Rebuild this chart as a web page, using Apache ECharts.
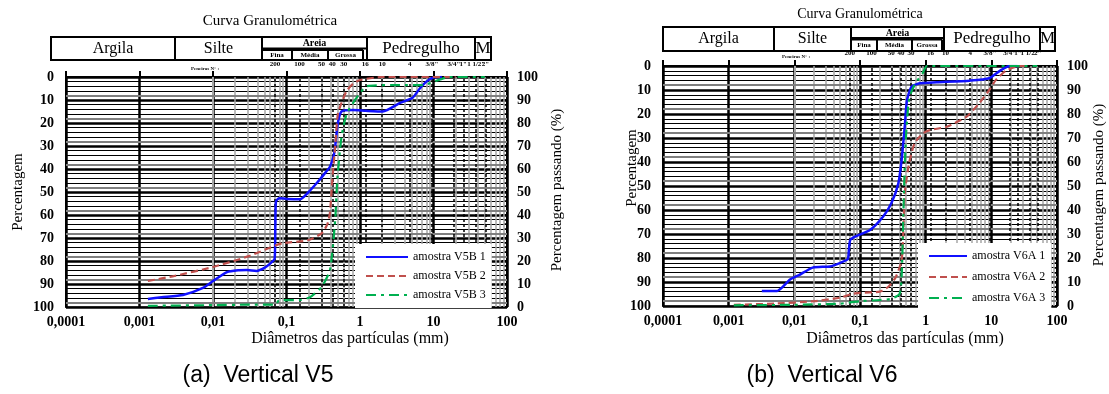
<!DOCTYPE html>
<html>
<head>
<meta charset="utf-8">
<script src="https://cdn.jsdelivr.net/npm/echarts@6/dist/echarts.min.js"></script>
<style>
  html, body { margin: 0; padding: 0; background: #fff; }
  #main { width: 1109px; height: 394px; }
</style>
</head>
<body>
<div id="main"></div>
<script>
var serif = '"Liberation Serif", "DejaVu Serif", serif';

// diametro (mm), percentagem passando (%)
var v5b1 = [[0.0013,3.5],[0.002,4.2],[0.0039,5.2],[0.0073,8.3],[0.01,11.3],[0.0155,15.2],[0.022,16],[0.029,16.1],[0.039,15.7],[0.05,17],[0.063,19.5],[0.069,21],[0.0705,35],[0.072,46],[0.08,47.3],[0.1,47],[0.152,46.8],[0.2,50],[0.26,54],[0.33,58],[0.39,61],[0.44,66],[0.46,70],[0.5,80],[0.56,85],[0.8,85.6],[1.2,85.3],[2.05,85],[3.5,88.7],[5.2,91],[6.5,95],[8,98],[9.5,99.5],[11,100],[13,100]];
var v5b2 = [[0.0013,11.3],[0.003,13.5],[0.01,17.4],[0.03,22],[0.074,27],[0.09,27.8],[0.195,29],[0.3,32],[0.36,36],[0.39,41],[0.42,55],[0.46,70],[0.5,84],[0.58,90],[0.66,94],[0.8,97],[1.0,98.7],[2,100],[20,100]];
var v5b3 = [[0.0013,0.5],[0.01,0.8],[0.03,1],[0.07,1],[0.08,3],[0.15,3],[0.21,4.3],[0.3,8.7],[0.39,16],[0.46,38],[0.49,55],[0.56,74],[0.66,84],[0.9,91],[1.25,96],[3.5,96.5],[7,96.5],[16.6,100],[50,100]];

var v6a1 = [[0.0032,6.3],[0.0055,6.3],[0.0086,11],[0.012,13],[0.019,16],[0.035,16.5],[0.05,18],[0.065,19.5],[0.068,24],[0.071,27.5],[0.084,28.9],[0.142,31.7],[0.224,37.2],[0.3,42.8],[0.383,51],[0.43,60.8],[0.48,74.7],[0.52,85.8],[0.61,91.4],[0.82,92.8],[1.47,93.2],[4.7,93.9],[9.3,94.9],[14,98.3],[19,100],[25,100]];
var v6a2 = [[0.0012,0.5],[0.005,1],[0.02,2],[0.05,3.5],[0.075,5],[0.1,5.5],[0.2,6],[0.27,8],[0.35,12],[0.43,19],[0.46,33],[0.48,47],[0.56,59.6],[0.68,67.9],[0.92,72],[1.16,73.3],[2.1,74.7],[4.2,78.9],[6.6,84.6],[9.3,90],[11.6,94],[16.6,98],[26.6,100],[35,100]];
var v6a3 = [[0.0012,0.3],[0.01,0.5],[0.05,1],[0.1,2],[0.2,2.5],[0.3,3],[0.4,5],[0.43,12],[0.45,30],[0.47,50],[0.5,70],[0.55,85],[0.62,90],[0.75,94],[0.9,97],[1.05,100],[50,100]];

var namesV5 = ['amostra V5B 1', 'amostra V5B 2', 'amostra V5B 3'];
var namesV6 = ['amostra V6A 1', 'amostra V6A 2', 'amostra V6A 3'];

// peneiras (mm) e numero
var sieveSize = [0.075, 0.15, 0.3, 0.42, 0.6, 1.18, 2, 4.76, 9.5, 19, 25.4, 38.1, 50.8];
var sieveName = ['200', '100', '50', '40', '30', '16', '10', '4', '3/8"', '3/4"', '1"', '1 1/2"', '2"'];

// linhas cinzentas do papel log
var minorX = [];
[0.0001, 0.001, 0.01, 0.1, 1, 10].forEach(function (d) {
  for (var k = 2; k <= 9; k++) minorX.push(+(d * k).toPrecision(2));
});
var grayY = [2, 12, 22, 32, 42, 52, 62, 72, 82, 92];

var colors = ['#1010ff', '#c0504d', '#00b050'];
var styles = ['solid', [7, 4], [10, 5, 3, 5]];

var grids = [
  { left: 66, top: 77, width: 441, height: 230 },
  { left: 663, top: 66, width: 394, height: 240 }
];

var xAxes = grids.map(function (g, i) {
  return {
    gridIndex: i, type: 'log', logBase: 10, min: 0.0001, max: 100,
    axisLine: { show: true, lineStyle: { color: '#000', width: 2 } },
    axisTick: { show: true, inside: true, length: 6, lineStyle: { color: '#000', width: 2 } },
    axisLabel: {
      margin: 8, color: '#000', fontFamily: serif, fontWeight: 'bold', fontSize: 14,
      formatter: function (v) { return String(+(+v).toPrecision(2)).replace('.', ','); }
    },
    splitLine: { show: true, lineStyle: { color: '#000', width: 2.5 } }
  };
});

var yAxes = [];
grids.forEach(function (g, i) {
  yAxes.push({
    gridIndex: i, type: 'value', min: 0, max: 100, interval: 10, inverse: true, position: 'left',
    axisLine: { show: true, lineStyle: { color: '#000', width: 2 } },
    axisTick: { show: false },
    axisLabel: { margin: 12, color: '#000', fontFamily: serif, fontWeight: 'bold', fontSize: 14 },
    splitLine: { show: true, lineStyle: { color: '#000', width: 2.5 } },
    minorTick: { show: false, splitNumber: 5 },
    minorSplitLine: { show: true, lineStyle: { color: '#000', width: 1 } }
  });
  yAxes.push({
    gridIndex: i, type: 'value', min: 0, max: 100, interval: 10, position: 'right',
    axisLine: { show: true, lineStyle: { color: '#000', width: 2 } },
    axisTick: { show: true, inside: true, length: 5, lineStyle: { color: '#000', width: 2 } },
    minorTick: { show: true, splitNumber: 5, length: 3, lineStyle: { color: '#000', width: 1.5 } },
    axisLabel: { margin: 10, color: '#000', fontFamily: serif, fontWeight: 'bold', fontSize: 14 },
    splitLine: { show: false }
  });
});

function helper(i) {
  var lines = [];
  minorX.forEach(function (v) {
    lines.push({ xAxis: v, lineStyle: { color: '#a6a6a6', width: 1.5, type: 'solid' }, label: { show: false } });
  });
  grayY.forEach(function (v) {
    lines.push({ yAxis: v, lineStyle: { color: '#7f7f7f', width: 2, type: 'solid' }, label: { show: false } });
  });
  sieveSize.forEach(function (v, k) {
    lines.push({
      xAxis: v, lineStyle: { color: '#000', width: 1.5, type: [3, 2] },
      label: { show: true, position: 'end', formatter: sieveName[k], distance: 9,
        fontSize: 7, fontWeight: 'bold', fontFamily: serif, color: '#000' }
    });
  });
  return {
    type: 'line', xAxisIndex: i, yAxisIndex: i * 2 + 1, data: [], silent: true, z: 1,
    markLine: { symbol: 'none', silent: true, animation: false, data: lines }
  };
}

var series = [helper(0), helper(1)];
[[v5b1, v5b2, v5b3], [v6a1, v6a2, v6a3]].forEach(function (set, i) {
  var names = i === 0 ? namesV5 : namesV6;
  set.forEach(function (d, k) {
    series.push({
      type: 'line', name: names[k], xAxisIndex: i, yAxisIndex: i * 2 + 1,
      data: d, symbol: 'none', smooth: 0.2, z: 5, animation: false,
      lineStyle: { color: colors[k], width: k === 0 ? 2.5 : 2.2, type: styles[k] },
      itemStyle: { color: colors[k] }
    });
  });
});

function legend(names, left, top, gap, w) {
  return {
    data: names, left: left, top: top, orient: 'vertical', itemGap: gap,
    itemWidth: w, itemHeight: 10, backgroundColor: '#fff', z: 20,
    padding: [7, 6, 7, 10], selectedMode: false,
    itemStyle: { color: 'transparent', borderColor: 'transparent', borderWidth: 0 },
    textStyle: { fontFamily: serif, fontSize: 12, color: '#000' }
  };
}

function txt(x, y, s, size, extra) {
  var e = {
    type: 'text', x: x, y: y, z: 10,
    style: { text: s, fill: '#000', align: 'center', verticalAlign: 'middle',
      font: (extra && extra.weight ? extra.weight + ' ' : '') + size + 'px ' + (extra && extra.family ? extra.family : serif) }
  };
  if (extra && extra.rot) e.rotation = Math.PI / 2;
  return e;
}
function ln(x1, y1, x2, y2) {
  return { type: 'line', z: 10, shape: { x1: x1, y1: y1, x2: x2, y2: y2 }, style: { stroke: '#000', lineWidth: 2 } };
}

// tabela de classificacao por cima do grafico
function header(h) {
  var el = [];
  var c = h.cuts, s = h.sub, cy = (h.top + h.bot) / 2;
  el.push({ type: 'rect', z: 10, shape: { x: h.x0, y: h.top, width: h.end - h.x0, height: h.bot - h.top },
    style: { fill: 'none', stroke: '#000', lineWidth: 2 } });
  c.forEach(function (x) { el.push(ln(x, h.top, x, h.bot)); });
  el.push(ln(c[1], h.mid, c[2], h.mid));
  el.push(ln(s[0], h.mid + 1.5, s[3], h.mid + 1.5));
  el.push(ln(s[1], h.mid + 1.5, s[1], h.bot));
  el.push(ln(s[2], h.mid + 1.5, s[2], h.bot));
  el.push(ln(s[3], h.mid + 1.5, s[3], h.bot));
  el.push(txt((h.x0 + c[0]) / 2, cy, 'Argila', 16));
  el.push(txt((c[0] + c[1]) / 2, cy, 'Silte', 16));
  el.push(txt((c[1] + c[2]) / 2, (h.top + h.mid) / 2 + 1, 'Areia', 10, { weight: 'bold' }));
  el.push(txt((s[0] + s[1]) / 2, (h.mid + h.bot) / 2 + 1, 'Fina', 7, { weight: 'bold' }));
  el.push(txt((s[1] + s[2]) / 2, (h.mid + h.bot) / 2 + 1, 'Média', 7, { weight: 'bold' }));
  el.push(txt((s[2] + s[3]) / 2, (h.mid + h.bot) / 2 + 1, 'Grossa', 7, { weight: 'bold' }));
  el.push(txt((c[2] + c[3]) / 2, cy, 'Pedregulho', 17));
  el.push(txt((c[3] + h.end) / 2, cy, 'M', 17));
  return el;
}

var graphics = []
  .concat(header({ x0: 51, top: 37, mid: 48.5, bot: 60, cuts: [175, 262, 367, 475], end: 491, sub: [262, 292, 328, 363] }))
  .concat(header({ x0: 663, top: 27, mid: 38, bot: 51, cuts: [774, 851, 944, 1040], end: 1055, sub: [851, 877, 912, 942] }))
  .concat([
    txt(270, 21, 'Curva Granulométrica', 15),
    txt(860, 14, 'Curva Granulométrica', 14),
    txt(205, 69, 'Peneiras N° :', 5, { weight: 'bold' }),
    txt(796, 57, 'Peneiras N° :', 5, { weight: 'bold' }),
    txt(18, 192, 'Percentagem', 15, { rot: true }),
    txt(557, 190, 'Percentagem passando (%)', 15, { rot: true }),
    txt(350, 339, 'Diâmetros das partículas (mm)', 16),
    txt(632, 168, 'Percentagem', 15, { rot: true }),
    txt(1099, 185, 'Percentagem passando (%)', 15, { rot: true }),
    txt(905, 339, 'Diâmetros das partículas (mm)', 16),
    txt(258, 376, '(a)  Vertical V5', 23, { family: '"Liberation Sans", Arial, sans-serif' }),
    txt(822, 376, '(b)  Vertical V6', 23, { family: '"Liberation Sans", Arial, sans-serif' })
  ]);

var chart = echarts.init(document.getElementById('main'));
chart.setOption({
  backgroundColor: '#fff',
  animation: false,
  grid: grids.map(function (g) {
    return { left: g.left, top: g.top, width: g.width, height: g.height, show: true,
      backgroundColor: '#fff', borderColor: '#8c8c8c', borderWidth: 2 };
  }),
  xAxis: xAxes,
  yAxis: yAxes,
  legend: [legend(namesV5, 355, 244, 7, 42), legend(namesV6, 918, 243, 9, 38)],
  series: series,
  graphic: graphics
});
</script>
</body>
</html>
